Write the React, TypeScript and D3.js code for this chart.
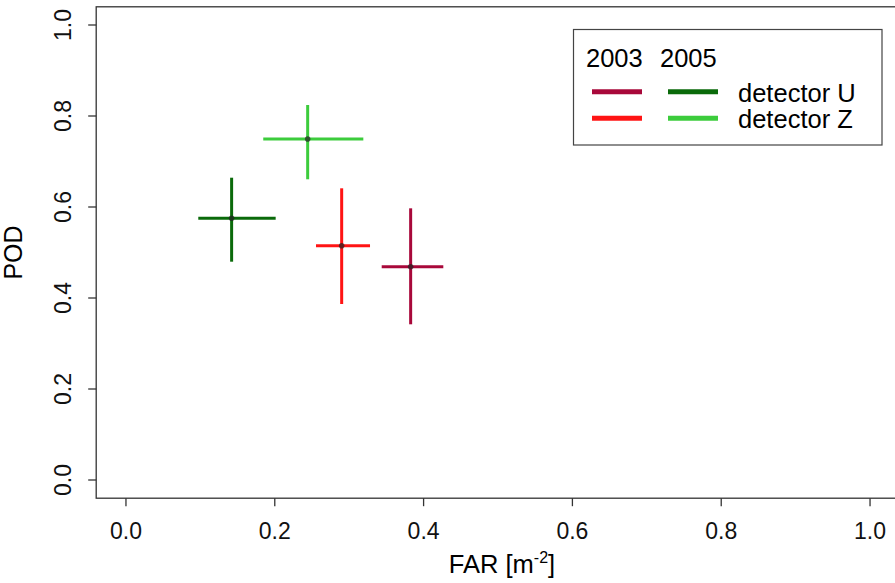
import React from "react";
import * as d3 from "d3";

const detectors = ["detector U 2003", "detector Z 2003", "detector U 2005", "detector Z 2005"];
const colors = ["#A8083A", "#FF1414", "#0A6A0A", "#3CCC3C"];
const farValues = [0.3826, 0.2899, 0.142, 0.2442];
const farLow = [0.3437, 0.2554, 0.0972, 0.1845];
const farHigh = [0.4265, 0.328, 0.2012, 0.319];
const podValues = [0.4688, 0.515, 0.5752, 0.7495];
const podLow = [0.3422, 0.3868, 0.4798, 0.6609];
const podHigh = [0.5971, 0.6411, 0.6644, 0.8242];
const tickValues = [0, 0.2, 0.4, 0.6, 0.8, 1.0];
const legendYears = ["2003", "2005"];
const legendRows = ["detector U", "detector Z"];

const W = 895;
const H = 583;
const FONT = "'Liberation Sans', Arial, sans-serif";

export default function App() {
  const x = d3.scaleLinear().domain([-0.04, 1.04]).range([96.2, 899.8]);
  const y = d3.scaleLinear().domain([-0.04, 1.04]).range([498.2, 6.8]);
  const fmt = d3.format(".1f");
  const [x0, x1] = x.range();
  const [y0, y1] = y.range();

  return (
    <svg
      width={W}
      height={H}
      style={{ position: "fixed", left: 0, top: 0, background: "#fff" }}
      fontFamily={FONT}
    >
      <rect x={0} y={0} width={W} height={H} fill="#fff" />
      {/* plot box */}
      <rect x={x0} y={y1} width={x1 - x0} height={y0 - y1} fill="none" stroke="#333" strokeWidth={1.3} />
      {/* y axis ticks */}
      {tickValues.map((t) => (
        <g key={"y" + t}>
          <line x1={x0} x2={x0 - 8} y1={y(t)} y2={y(t)} stroke="#333" strokeWidth={1.3} />
          <text
            transform={`translate(71,${y(t)}) rotate(-90)`}
            textAnchor="middle"
            fontSize={23}
            fill="#111"
          >
            {fmt(t)}
          </text>
        </g>
      ))}
      {/* x axis ticks */}
      {tickValues.map((t) => (
        <g key={"x" + t}>
          <line x1={x(t)} x2={x(t)} y1={y0} y2={y0 + 8} stroke="#333" strokeWidth={1.3} />
          <text x={x(t)} y={539} textAnchor="middle" fontSize={23} fill="#111">
            {fmt(t)}
          </text>
        </g>
      ))}
      {/* axis titles */}
      <text x={502} y={573} textAnchor="middle" fontSize={25.5} fill="#000">
        FAR [m
        <tspan fontSize={16} dy={-10}>-2</tspan>
        <tspan dy={10}>]</tspan>
      </text>
      <text transform={`translate(22,${(y0 + y1) / 2}) rotate(-90)`} textAnchor="middle" fontSize={25} fill="#000">
        POD
      </text>
      {/* crosses */}
      {detectors.map((d, i) => (
        <g key={d}>
          <line x1={x(farLow[i])} x2={x(farHigh[i])} y1={y(podValues[i])} y2={y(podValues[i])} stroke={colors[i]} strokeWidth={3} />
          <line x1={x(farValues[i])} x2={x(farValues[i])} y1={y(podLow[i])} y2={y(podHigh[i])} stroke={colors[i]} strokeWidth={3} />
          <circle cx={x(farValues[i])} cy={y(podValues[i])} r={2.8} fill="#222" opacity={0.7} />
        </g>
      ))}
      {/* legend */}
      <rect x={573.5} y={29.5} width={308.5} height={115.5} fill="#fff" stroke="#444" strokeWidth={1.2} />
      {legendYears.map((yr, j) => (
        <text key={yr} x={586 + j * 74} y={66.5} fontSize={25.5} fill="#000">
          {yr}
        </text>
      ))}
      {legendRows.map((r, k) => (
        <g key={r}>
          {legendYears.map((yr, j) => (
            <line
              key={yr}
              x1={592 + j * 76}
              x2={642 + j * 76}
              y1={91.7 + k * 26.5}
              y2={91.7 + k * 26.5}
              stroke={colors[j * 2 + k]}
              strokeWidth={5}
            />
          ))}
          <text x={738} y={101.7 + k * 26.5} fontSize={25.5} fill="#000">
            {r}
          </text>
        </g>
      ))}
    </svg>
  );
}
